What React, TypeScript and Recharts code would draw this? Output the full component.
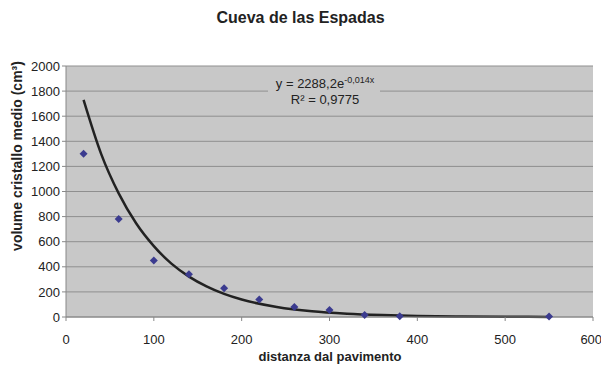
import { ComposedChart, Scatter, Line, XAxis, YAxis, CartesianGrid, Customized } from 'recharts'

const distanza = [20, 60, 100, 140, 180, 220, 260, 300, 340, 380, 550]
const volume = [1300, 780, 450, 340, 230, 140, 80, 55, 16, 5, 3]

// trend curve
const trendX = [20, 40, 60, 80, 100, 120, 140, 160, 180, 200, 240, 280, 320, 360, 400, 450, 500, 550]
const trendY = [1730, 1300, 985, 745, 565, 425, 322, 244, 184, 139, 80, 45, 26, 15, 8, 4, 2, 1]

const xTicks = [0, 100, 200, 300, 400, 500, 600]
const yTicks = [0, 200, 400, 600, 800, 1000, 1200, 1400, 1600, 1800, 2000]

const points = distanza.map((x, i) => ({ x, y: volume[i] }))
const trend = trendX.map((x, i) => ({ x, y: trendY[i] }))

const font = 'Liberation Sans, Arial, sans-serif'
const plotBg = '#c8c8c8'

const Diamond = (props: any) => {
  const { cx, cy } = props
  const s = 4
  return <path d={`M${cx},${cy - s}L${cx + s},${cy}L${cx},${cy + s}L${cx - s},${cy}Z`} fill="#3b3b8f" />
}

const Labels = () => (
  <g fontFamily={font} fontSize={13} fill="#222">
    <rect x={268} y={72} width={112} height={34} fill={plotBg} />
    <text x={325} y={88} textAnchor="middle">
      y = 2288,2e<tspan dy={-5} fontSize={9}>-0,014x</tspan>
    </text>
    <text x={325} y={104} textAnchor="middle">R² = 0,9775</text>
    <text x={330} y={361} textAnchor="middle" fontWeight="bold">distanza dal pavimento</text>
    <text x={22} y={156} textAnchor="middle" fontWeight="bold" fontSize={14} transform="rotate(-90 22 156)">
      volume cristallo medio (cm³)
    </text>
  </g>
)

export default function App() {
  return (
    <div style={{ position: 'absolute', left: 0, top: 0, width: 601, height: 367, background: '#fff' }}>
      <div style={{ position: 'absolute', top: 9, width: 601, textAlign: 'center', fontFamily: font, fontWeight: 'bold', fontSize: 16, color: '#222' }}>
        Cueva de las Espadas
      </div>
      <ComposedChart width={601} height={367} margin={{ top: 66, right: 8, left: 16, bottom: 20 }}>
        <CartesianGrid vertical={false} stroke="#8f8f8f" fill={plotBg} />
        <XAxis
          type="number"
          dataKey="x"
          domain={[0, 600]}
          ticks={xTicks}
          stroke="#888"
          tick={{ fontSize: 13, fill: '#222', fontFamily: font, dy: 12 }}
          tickSize={4}
          height={30}
        />
        <YAxis
          type="number"
          dataKey="y"
          domain={[0, 2000]}
          ticks={yTicks}
          width={50}
          stroke="#888"
          tickSize={4}
          tick={{ fontSize: 13, fill: '#222', fontFamily: font }}
        />
        <Line data={trend} dataKey="y" type="monotone" stroke="#222" strokeWidth={2.5} dot={false} isAnimationActive={false} />
        <Scatter data={points} dataKey="y" shape={<Diamond />} isAnimationActive={false} />
        <Customized component={Labels} />
      </ComposedChart>
    </div>
  )
}
